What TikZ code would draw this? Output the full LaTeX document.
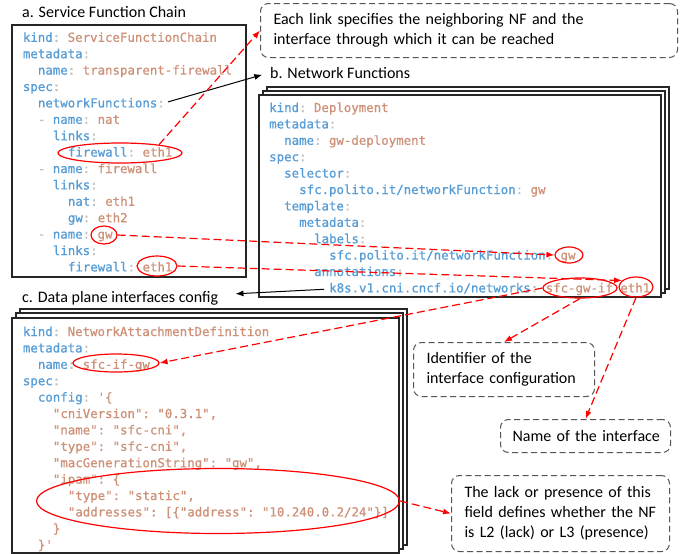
\documentclass[tikz,border=0pt]{standalone}
\usepackage{fontspec}
\setmainfont{Carlito}
\setmonofont{DejaVu Sans Mono}[FakeBold=0.8]
\usetikzlibrary{arrows.meta,shapes.geometric}

\definecolor{keyc}{RGB}{86,156,214}
\definecolor{valc}{RGB}{206,145,120}
\definecolor{punc}{RGB}{190,190,190}
\definecolor{redc}{RGB}{255,0,0}
\definecolor{boxgray}{RGB}{85,85,85}

\newcommand\Ky[1]{\textcolor{keyc}{#1}}
\newcommand\Vl[1]{\textcolor{valc}{#1}}
\newcommand\Cn{\textcolor{punc}{:}}
\newcommand\Dh{\textcolor{punc}{-}}
% name, x0, y0, line, indent, content
\newcommand\cl[6]{\node[code] (#1) at ({#2+#5*7.5},{#3+#4*16.4}) {#6};}

\tikzset{
 code/.style={anchor=base west, inner sep=0pt, font=\ttfamily\fontsize{12.4}{14}\selectfont},
 titletext/.style={anchor=base west, inner sep=0pt, font=\fontsize{16}{20}\selectfont},
 callout/.style={draw=boxgray, line width=1pt, dash pattern=on 6pt off 3.5pt, rounded corners=8pt, anchor=north west, align=left, font=\fontsize{16}{20}\selectfont, inner ysep=0pt},
 redell/.style={draw=redc, line width=1.2pt, ellipse, inner sep=0pt},
 redarrow/.style={draw=redc, line width=1.2pt, dash pattern=on 8pt off 4pt, -{Latex[length=8pt,width=6pt]}},
 blackarrow/.style={draw=black, line width=1pt, -{Latex[length=8pt,width=6pt]}},
 sheet/.style={draw=black!85, line width=1.1pt, fill=white},
}

\begin{document}
\begin{tikzpicture}[x=1pt,y=-1pt]
\useasboundingbox[fill=white] (0,0) rectangle (680,554);

% ---------- titles ----------
\node[titletext] (ta) at (22,17.5) {a. Service Function Chain};
\node[titletext] (tb) at (270,78) {b. Network Functions};
\node[titletext] (tc) at (22,302) {c. Data plane interfaces config};

% ---------- box a ----------
\draw[sheet, line width=1.5pt] (12,25) rectangle (246,277);
\cl{a0}{22.7}{41.8}{0}{0}{\Ky{kind}\Cn{} \Vl{ServiceFunctionChain}}
\cl{a1}{22.7}{41.8}{1}{0}{\Ky{metadata}\Cn}
\cl{a2}{22.7}{41.8}{2}{2}{\Ky{name}\Cn{} \Vl{transparent-firewall}}
\cl{a3}{22.7}{41.8}{3}{0}{\Ky{spec}\Cn}
\cl{nf}{22.7}{41.8}{4}{2}{\Ky{networkFunctions}\Cn}
\cl{a5}{22.7}{41.8}{5}{2}{\Dh{} \Ky{name}\Cn{} \Vl{nat}}
\cl{a6}{22.7}{41.8}{6}{4}{\Ky{links}\Cn}
\cl{a7}{22.7}{41.8}{7}{6}{\Ky{firewall}\Cn{} \Vl{eth1}}
\cl{a8}{22.7}{41.8}{8}{2}{\Dh{} \Ky{name}\Cn{} \Vl{firewall}}
\cl{a9}{22.7}{41.8}{9}{4}{\Ky{links}\Cn}
\cl{a10}{22.7}{41.8}{10}{6}{\Ky{nat}\Cn{} \Vl{eth1}}
\cl{a11}{22.7}{41.8}{11}{6}{\Ky{gw}\Cn{} \Vl{eth2}}
\cl{a12}{22.7}{41.8}{12}{2}{\Dh{} \Ky{name}\Cn{} \Vl{gw}}
\cl{a13}{22.7}{41.8}{13}{4}{\Ky{links}\Cn}
\cl{a14}{22.7}{41.8}{14}{6}{\Ky{firewall}\Cn{} \Vl{eth1}}

% ---------- box b ----------
\draw[sheet] (267,87) rectangle (669,289);
\draw[sheet] (263,91) rectangle (665,293);
\draw[sheet] (259,95) rectangle (661,297);
\cl{b0}{269}{112}{0}{0}{\Ky{kind}\Cn{} \Vl{Deployment}}
\cl{b1}{269}{112}{1}{0}{\Ky{metadata}\Cn}
\cl{b2}{269}{112}{2}{2}{\Ky{name}\Cn{} \Vl{gw-deployment}}
\cl{b3}{269}{112}{3}{0}{\Ky{spec}\Cn}
\cl{b4}{269}{112}{4}{2}{\Ky{selector}\Cn}
\cl{b5}{269}{112}{5}{4}{\Ky{sfc.polito.it/networkFunction}\Cn{} \Vl{gw}}
\cl{b6}{269}{112}{6}{2}{\Ky{template}\Cn}
\cl{b7}{269}{112}{7}{4}{\Ky{metadata}\Cn}
\cl{b8}{269}{112}{8}{6}{\Ky{labels}\Cn}
\cl{b9}{269}{112}{9}{8}{\Ky{sfc.polito.it/networkFunction}\Cn{} \Vl{gw}}
\cl{b10}{269}{112}{10}{6}{\Ky{annotations}\Cn}
\cl{k8s}{269}{112}{11}{8}{\Ky{k8s.v1.cni.cncf.io/networks}\Cn{} \Vl{sfc-gw-if} \Vl{eth1}}

% ---------- box c ----------
\draw[sheet] (20,309) rectangle (407,545);
\draw[sheet] (16,313) rectangle (403,549);
\draw[sheet] (12,318) rectangle (399,553);
\cl{c0}{22.7}{336}{0}{0}{\Ky{kind}\Cn{} \Vl{NetworkAttachmentDefinition}}
\cl{c1}{22.7}{336}{1}{0}{\Ky{metadata}\Cn}
\cl{c2}{22.7}{336}{2}{2}{\Ky{name}\Cn{} \Vl{sfc-if-gw}}
\cl{c3}{22.7}{336}{3}{0}{\Ky{spec}\Cn}
\cl{c4}{22.7}{336}{4}{2}{\Ky{config}\Cn{} \Vl{'\{}}
\cl{c5}{22.7}{336}{5}{4}{\Vl{"cniVersion": "0.3.1",}}
\cl{c6}{22.7}{336}{6}{4}{\Vl{"name": "sfc-cni",}}
\cl{c7}{22.7}{336}{7}{4}{\Vl{"type": "sfc-cni",}}
\cl{c8}{22.7}{336}{8}{4}{\Vl{"macGenerationString": "gw",}}
\cl{c9}{22.7}{336}{9}{4}{\Vl{"ipam": \{}}
\cl{c10}{22.7}{336}{10}{6}{\Vl{"type": "static",}}
\cl{c11}{22.7}{336}{11}{6}{\Vl{"addresses": [\{"address": "10.240.0.2/24"\}]}}
\cl{c12}{22.7}{336}{12}{4}{\Vl{\}}}
\cl{c13}{22.7}{336}{13}{2}{\Vl{\}'}}

% ---------- callouts ----------
\node[callout, text width=391pt, inner xsep=13pt, minimum height=54pt] (co1) at (260,3)
  {\mbox{Each link specifies the neighboring NF and the}\\\mbox{interface through which it can be reached}};
\node[callout, text width=155pt, inner xsep=13pt, minimum height=54pt] (co2) at (413,342)
  {\mbox{Identifier of the}\\\mbox{interface configuration}};
\node[callout, text width=146pt, inner xsep=12pt, minimum height=33pt] (co3) at (500,419)
  {\mbox{Name of the interface}};
\node[callout, text width=192pt, inner xsep=13pt, minimum height=76pt] (co4) at (451,475)
  {\mbox{The lack or presence of this}\\\mbox{field defines whether the NF}\\\mbox{is L2 (lack) or L3 (presence)}};

% ---------- red ellipses ----------
\node[redell, minimum width=124pt, minimum height=20pt] (e1) at (120,153) {};
\node[redell, minimum width=26pt, minimum height=18pt] (ga) at (104,235) {};
\node[redell, minimum width=40pt, minimum height=20pt] (ea) at (157,266) {};
\node[redell, minimum width=28pt, minimum height=16pt] (gb) at (569,255) {};
\node[redell, minimum width=74pt, minimum height=20pt] (sb) at (580,288) {};
\node[redell, minimum width=34pt, minimum height=20pt] (eb) at (636,287) {};
\node[redell, minimum width=86pt, minimum height=18pt] (sc) at (116,363) {};
\node[redell, minimum width=363pt, minimum height=65pt] (big) at (218,501) {};

% ---------- connectors ----------
\draw[blackarrow, shorten <=3pt, shorten >=8pt] (nf.east) -- (tb.west);
\draw[blackarrow, shorten <=5pt] (k8s.west) -- ([xshift=17pt,yshift=4pt]tc.east);

\draw[redarrow] (e1.12) -- (co1.west);
\draw[redarrow] (ga.east) -- (gb.west);
\draw[redarrow] (ea.east) -- (eb.155);
\draw[redarrow] (sb.west) -- (sc.east);
\draw[redarrow] (sb.south) -- (co2.north);
\draw[redarrow] (eb.south) -- (co3.north);
\draw[redarrow] (big.east) -- (co4.west);
\end{tikzpicture}
\end{document}
